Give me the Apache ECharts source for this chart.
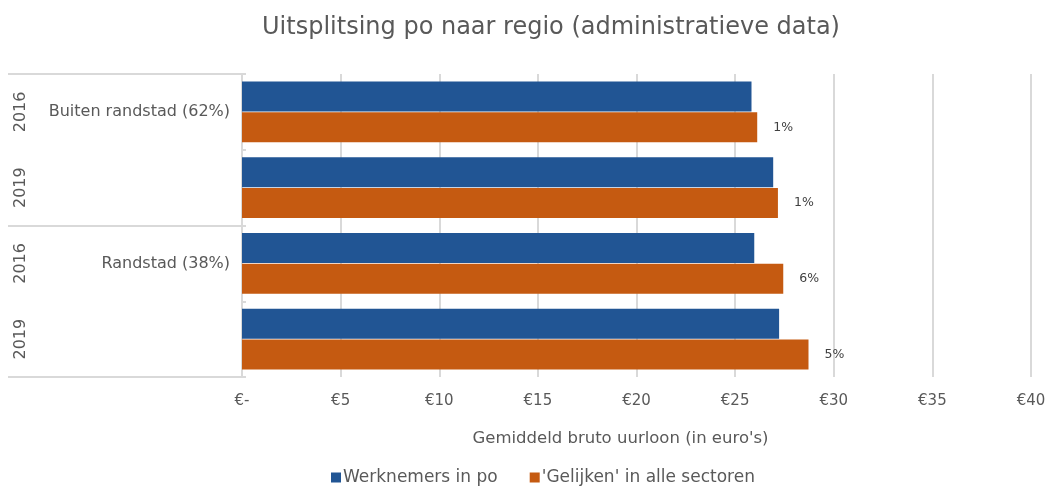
<!DOCTYPE html>
<html>
<head>
<meta charset="utf-8">
<script src="https://cdn.jsdelivr.net/npm/echarts@6/dist/echarts.min.js"></script>
<style>
  html, body { margin: 0; padding: 0; background: #ffffff; }
  #chart { width: 1048px; height: 487px; }
</style>
</head>
<body>
<div id="chart"></div>
<script>
const years = ["2016", "2019", "2016", "2019"]
const regionLabels = ["Buiten randstad (62%)", "", "Randstad (38%)", ""]
const regions = ["Buiten randstad", "Randstad"]
const werknemers = [25.83, 26.93, 25.97, 27.23]
const gelijken = [26.12, 27.17, 27.44, 28.72]
const diffLabels = ["1%", "1%", "6%", "5%"]
const xTicks = [0, 5, 10, 15, 20, 25, 30, 35, 40]

const font = "'DejaVu Sans', sans-serif"
const textColor = "#595959"
const gridColor = "#d9d9d9"
const blue = "#215594"
const orange = "#c55a11"

const chart = echarts.init(document.getElementById("chart"))

chart.setOption({
  backgroundColor: "#ffffff",
  animation: false,
  textStyle: { fontFamily: font },

  title: {
    text: "Uitsplitsing po naar regio (administratieve data)",
    left: 546,
    textAlign: "center",
    top: 11,
    textStyle: { fontFamily: font, fontSize: 24, fontWeight: "normal", color: textColor }
  },

  legend: {
    top: 464,
    left: 326,
    icon: "rect",
    itemWidth: 10,
    itemHeight: 10,
    itemGap: 32,
    textStyle: { fontFamily: font, fontSize: 17, color: textColor, padding: [0, 0, 0, -3] },
    data: ["Werknemers in po", "'Gelijken' in alle sectoren"]
  },

  grid: { left: 242, right: 17, top: 74, bottom: 110, containLabel: false, outerBoundsMode: "none" },

  xAxis: {
    type: "value",
    min: xTicks[0],
    max: xTicks[xTicks.length - 1],
    interval: 5,
    name: "Gemiddeld bruto uurloon (in euro's)",
    nameLocation: "middle",
    nameGap: 53,
    nameTextStyle: { fontFamily: font, fontSize: 16.5, color: textColor, padding: [0, 32, 0, 0] },
    axisLine: { show: false },
    axisTick: { show: false },
    axisLabel: {
      margin: 17,
      fontFamily: font,
      fontSize: 15,
      color: textColor,
      formatter: v => (v === 0 ? "€-" : "€" + v)
    },
    splitLine: { show: true, lineStyle: { color: gridColor, width: 2 } }
  },

  yAxis: [
    {
      type: "category",
      position: "left",
      data: years,
      inverse: true,
      axisLine: { show: true, lineStyle: { color: gridColor, width: 2 } },
      axisTick: { show: true, inside: true, length: 4, lineStyle: { color: gridColor, width: 2 } },
      axisLabel: { rotate: 90, margin: 213, fontFamily: font, fontSize: 16, color: textColor }
    },
    {
      type: "category",
      position: "left",
      offset: 0,
      data: regionLabels,
      inverse: true,
      axisLine: { show: false },
      axisTick: { show: false },
      axisLabel: { margin: 12, fontFamily: font, fontSize: 16, color: textColor, interval: 0 }
    },
    {
      type: "category",
      position: "left",
      offset: 0,
      data: regions,
      inverse: true,
      axisLine: { show: false },
      axisTick: { show: true, length: 234, lineStyle: { color: gridColor, width: 2 } },
      axisLabel: { show: false }
    }
  ],

  series: [
    {
      type: "bar",
      name: "Werknemers in po",
      data: werknemers,
      yAxisIndex: 0,
      barWidth: 30,
      barGap: "3%",
      itemStyle: { color: blue }
    },
    {
      type: "bar",
      name: "'Gelijken' in alle sectoren",
      data: gelijken,
      yAxisIndex: 0,
      barWidth: 30,
      itemStyle: { color: orange },
      label: {
        show: true,
        position: "right",
        distance: 16,
        fontFamily: font,
        fontSize: 12.5,
        color: "#404040",
        formatter: p => diffLabels[p.dataIndex]
      }
    }
  ]
})
</script>
</body>
</html>
